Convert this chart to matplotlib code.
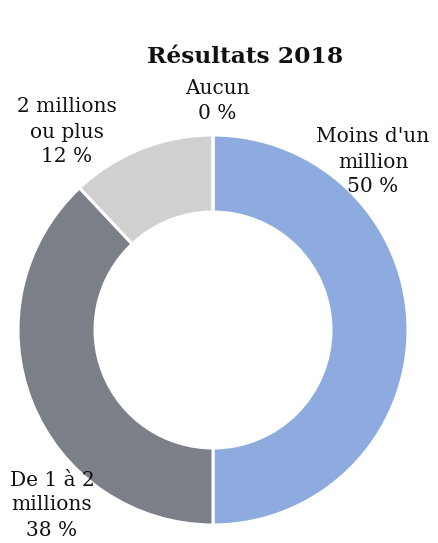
import matplotlib.pyplot as plt

categories = ["Moins d'un\nmillion", "De 1 à 2\nmillions", "2 millions\nou plus", "Aucun"]
values = [50, 38, 12, 0]
colors = ["#8eabe0", "#7b7f88", "#d0d0d0", "#a5a5a5"]

H = 543
# label anchor points (pixels from top-left), one per category
label_pos = [(373, 162), (52, 505), (67, 132), (217, 101)]

plt.rcParams['font.family'] = ['DejaVu Serif']

fig = plt.figure(figsize=(4.38, 5.43), dpi=100)
ax = fig.add_axes([0, 0, 1, 1])

shown = [v if v > 0 else 1e-9 for v in values]
ax.pie(shown, colors=colors, center=(213, H - 330), radius=195,
       startangle=90, counterclock=False, frame=True,
       wedgeprops=dict(width=195 * 0.395, edgecolor='white', linewidth=2.2))
ax.set_xlim(0, 438)
ax.set_ylim(0, H)
ax.set_aspect('equal')
ax.axis('off')

for cat, v, (x, y) in zip(categories, values, label_pos):
    ax.text(x, H - y, f"{cat}\n{v} %", ha='center', va='center',
            fontsize=14.5, linespacing=1.4, color='#111111')

ax.text(245, H - 57, "Résultats 2018", ha='center', va='center',
        fontsize=16.8, fontweight='bold', color='#111111')

fig.savefig('out.png', dpi=100)
